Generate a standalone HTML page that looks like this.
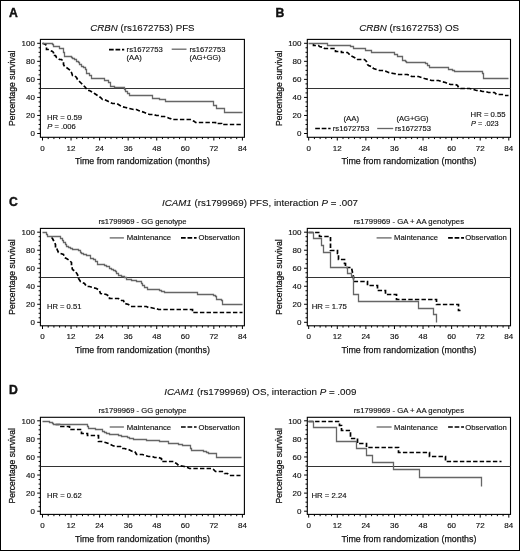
<!DOCTYPE html><html><head><meta charset="utf-8"><style>html,body{margin:0;padding:0;background:#fff;} .t{stroke:#111;stroke-width:0.15px;} .u{stroke:#111;stroke-width:0.12px;} .v{stroke:#111;stroke-width:0.25px;}svg{display:block;will-change:transform;filter:blur(0.3px);}</style></head><body>
<svg width="520" height="551" viewBox="0 0 520 551" font-family='"Liberation Sans", sans-serif' fill="#111">
<rect x="0" y="0" width="520" height="551" fill="#fff"/>
<rect x="0.5" y="0.5" width="519" height="550" fill="none" stroke="#000" stroke-width="1"/>
<rect x="40.4" y="39.4" width="204.00" height="97.90" fill="none" stroke="#000" stroke-width="1.1"/>
<line x1="40.4" y1="88.50" x2="244.4" y2="88.50" stroke="#333" stroke-width="1.15"/>
<path d="M37.20 133.50H40.4 M38.60 128.99H40.4 M38.60 124.48H40.4 M38.60 119.97H40.4 M37.20 115.46H40.4 M38.60 110.95H40.4 M38.60 106.44H40.4 M38.60 101.93H40.4 M37.20 97.42H40.4 M38.60 92.91H40.4 M38.60 88.40H40.4 M38.60 83.89H40.4 M37.20 79.38H40.4 M38.60 74.87H40.4 M38.60 70.36H40.4 M38.60 65.85H40.4 M37.20 61.34H40.4 M38.60 56.83H40.4 M38.60 52.32H40.4 M38.60 47.81H40.4 M37.20 43.30H40.4 M42.50 137.3V140.50 M48.21 137.3V139.10 M53.92 137.3V139.10 M59.63 137.3V139.10 M65.35 137.3V139.10 M71.06 137.3V140.50 M76.77 137.3V139.10 M82.48 137.3V139.10 M88.19 137.3V139.10 M93.90 137.3V139.10 M99.61 137.3V140.50 M105.33 137.3V139.10 M111.04 137.3V139.10 M116.75 137.3V139.10 M122.46 137.3V139.10 M128.17 137.3V140.50 M133.88 137.3V139.10 M139.59 137.3V139.10 M145.31 137.3V139.10 M151.02 137.3V139.10 M156.73 137.3V140.50 M162.44 137.3V139.10 M168.15 137.3V139.10 M173.86 137.3V139.10 M179.57 137.3V139.10 M185.29 137.3V140.50 M191.00 137.3V139.10 M196.71 137.3V139.10 M202.42 137.3V139.10 M208.13 137.3V139.10 M213.84 137.3V140.50 M219.55 137.3V139.10 M225.27 137.3V139.10 M230.98 137.3V139.10 M236.69 137.3V139.10 M242.40 137.3V140.50" stroke="#000" stroke-width="1" fill="none"/>
<text x="34.9" y="136.40" font-size="8.0" class="t" text-anchor="end">0</text>
<text x="34.9" y="118.36" font-size="8.0" class="t" text-anchor="end">20</text>
<text x="34.9" y="100.32" font-size="8.0" class="t" text-anchor="end">40</text>
<text x="34.9" y="82.28" font-size="8.0" class="t" text-anchor="end">60</text>
<text x="34.9" y="64.24" font-size="8.0" class="t" text-anchor="end">80</text>
<text x="34.9" y="46.20" font-size="8.0" class="t" text-anchor="end">100</text>
<text x="42.50" y="150.70" font-size="8.0" class="t" text-anchor="middle">0</text>
<text x="71.06" y="150.70" font-size="8.0" class="t" text-anchor="middle">12</text>
<text x="99.61" y="150.70" font-size="8.0" class="t" text-anchor="middle">24</text>
<text x="128.17" y="150.70" font-size="8.0" class="t" text-anchor="middle">36</text>
<text x="156.73" y="150.70" font-size="8.0" class="t" text-anchor="middle">48</text>
<text x="185.29" y="150.70" font-size="8.0" class="t" text-anchor="middle">60</text>
<text x="213.84" y="150.70" font-size="8.0" class="t" text-anchor="middle">72</text>
<text x="242.40" y="150.70" font-size="8.0" class="t" text-anchor="middle">84</text>
<text x="142.40" y="163.80" font-size="9.8" class="v" text-anchor="middle" textLength="135" lengthAdjust="spacingAndGlyphs">Time from randomization (months)</text>
<text class="v" transform="translate(14.80,88.35) rotate(-90)" font-size="9.8" text-anchor="middle" textLength="75.5" lengthAdjust="spacingAndGlyphs">Percentage survival</text>
<rect x="40.4" y="228.4" width="204.00" height="97.40" fill="none" stroke="#000" stroke-width="1.1"/>
<line x1="40.4" y1="277.50" x2="244.4" y2="277.50" stroke="#333" stroke-width="1.15"/>
<path d="M37.20 322.30H40.4 M38.60 317.80H40.4 M38.60 313.29H40.4 M38.60 308.79H40.4 M37.20 304.28H40.4 M38.60 299.77H40.4 M38.60 295.27H40.4 M38.60 290.76H40.4 M37.20 286.26H40.4 M38.60 281.75H40.4 M38.60 277.25H40.4 M38.60 272.75H40.4 M37.20 268.24H40.4 M38.60 263.74H40.4 M38.60 259.23H40.4 M38.60 254.72H40.4 M37.20 250.22H40.4 M38.60 245.71H40.4 M38.60 241.21H40.4 M38.60 236.70H40.4 M37.20 232.20H40.4 M42.50 325.8V329.00 M48.21 325.8V327.60 M53.92 325.8V327.60 M59.63 325.8V327.60 M65.35 325.8V327.60 M71.06 325.8V329.00 M76.77 325.8V327.60 M82.48 325.8V327.60 M88.19 325.8V327.60 M93.90 325.8V327.60 M99.61 325.8V329.00 M105.33 325.8V327.60 M111.04 325.8V327.60 M116.75 325.8V327.60 M122.46 325.8V327.60 M128.17 325.8V329.00 M133.88 325.8V327.60 M139.59 325.8V327.60 M145.31 325.8V327.60 M151.02 325.8V327.60 M156.73 325.8V329.00 M162.44 325.8V327.60 M168.15 325.8V327.60 M173.86 325.8V327.60 M179.57 325.8V327.60 M185.29 325.8V329.00 M191.00 325.8V327.60 M196.71 325.8V327.60 M202.42 325.8V327.60 M208.13 325.8V327.60 M213.84 325.8V329.00 M219.55 325.8V327.60 M225.27 325.8V327.60 M230.98 325.8V327.60 M236.69 325.8V327.60 M242.40 325.8V329.00" stroke="#000" stroke-width="1" fill="none"/>
<text x="34.9" y="325.20" font-size="8.0" class="t" text-anchor="end">0</text>
<text x="34.9" y="307.18" font-size="8.0" class="t" text-anchor="end">20</text>
<text x="34.9" y="289.16" font-size="8.0" class="t" text-anchor="end">40</text>
<text x="34.9" y="271.14" font-size="8.0" class="t" text-anchor="end">60</text>
<text x="34.9" y="253.12" font-size="8.0" class="t" text-anchor="end">80</text>
<text x="34.9" y="235.10" font-size="8.0" class="t" text-anchor="end">100</text>
<text x="42.50" y="339.20" font-size="8.0" class="t" text-anchor="middle">0</text>
<text x="71.06" y="339.20" font-size="8.0" class="t" text-anchor="middle">12</text>
<text x="99.61" y="339.20" font-size="8.0" class="t" text-anchor="middle">24</text>
<text x="128.17" y="339.20" font-size="8.0" class="t" text-anchor="middle">36</text>
<text x="156.73" y="339.20" font-size="8.0" class="t" text-anchor="middle">48</text>
<text x="185.29" y="339.20" font-size="8.0" class="t" text-anchor="middle">60</text>
<text x="213.84" y="339.20" font-size="8.0" class="t" text-anchor="middle">72</text>
<text x="242.40" y="339.20" font-size="8.0" class="t" text-anchor="middle">84</text>
<text x="142.40" y="352.60" font-size="9.8" class="v" text-anchor="middle" textLength="135" lengthAdjust="spacingAndGlyphs">Time from randomization (months)</text>
<text class="v" transform="translate(14.80,277.10) rotate(-90)" font-size="9.8" text-anchor="middle" textLength="75.5" lengthAdjust="spacingAndGlyphs">Percentage survival</text>
<rect x="40.4" y="417.3" width="204.00" height="97.10" fill="none" stroke="#000" stroke-width="1.1"/>
<line x1="40.4" y1="466.50" x2="244.4" y2="466.50" stroke="#333" stroke-width="1.15"/>
<path d="M37.20 511.20H40.4 M38.60 506.68H40.4 M38.60 502.16H40.4 M38.60 497.64H40.4 M37.20 493.12H40.4 M38.60 488.60H40.4 M38.60 484.08H40.4 M38.60 479.56H40.4 M37.20 475.04H40.4 M38.60 470.52H40.4 M38.60 466.00H40.4 M38.60 461.48H40.4 M37.20 456.96H40.4 M38.60 452.44H40.4 M38.60 447.92H40.4 M38.60 443.40H40.4 M37.20 438.88H40.4 M38.60 434.36H40.4 M38.60 429.84H40.4 M38.60 425.32H40.4 M37.20 420.80H40.4 M42.50 514.4V517.60 M48.21 514.4V516.20 M53.92 514.4V516.20 M59.63 514.4V516.20 M65.35 514.4V516.20 M71.06 514.4V517.60 M76.77 514.4V516.20 M82.48 514.4V516.20 M88.19 514.4V516.20 M93.90 514.4V516.20 M99.61 514.4V517.60 M105.33 514.4V516.20 M111.04 514.4V516.20 M116.75 514.4V516.20 M122.46 514.4V516.20 M128.17 514.4V517.60 M133.88 514.4V516.20 M139.59 514.4V516.20 M145.31 514.4V516.20 M151.02 514.4V516.20 M156.73 514.4V517.60 M162.44 514.4V516.20 M168.15 514.4V516.20 M173.86 514.4V516.20 M179.57 514.4V516.20 M185.29 514.4V517.60 M191.00 514.4V516.20 M196.71 514.4V516.20 M202.42 514.4V516.20 M208.13 514.4V516.20 M213.84 514.4V517.60 M219.55 514.4V516.20 M225.27 514.4V516.20 M230.98 514.4V516.20 M236.69 514.4V516.20 M242.40 514.4V517.60" stroke="#000" stroke-width="1" fill="none"/>
<text x="34.9" y="514.10" font-size="8.0" class="t" text-anchor="end">0</text>
<text x="34.9" y="496.02" font-size="8.0" class="t" text-anchor="end">20</text>
<text x="34.9" y="477.94" font-size="8.0" class="t" text-anchor="end">40</text>
<text x="34.9" y="459.86" font-size="8.0" class="t" text-anchor="end">60</text>
<text x="34.9" y="441.78" font-size="8.0" class="t" text-anchor="end">80</text>
<text x="34.9" y="423.70" font-size="8.0" class="t" text-anchor="end">100</text>
<text x="42.50" y="527.80" font-size="8.0" class="t" text-anchor="middle">0</text>
<text x="71.06" y="527.80" font-size="8.0" class="t" text-anchor="middle">12</text>
<text x="99.61" y="527.80" font-size="8.0" class="t" text-anchor="middle">24</text>
<text x="128.17" y="527.80" font-size="8.0" class="t" text-anchor="middle">36</text>
<text x="156.73" y="527.80" font-size="8.0" class="t" text-anchor="middle">48</text>
<text x="185.29" y="527.80" font-size="8.0" class="t" text-anchor="middle">60</text>
<text x="213.84" y="527.80" font-size="8.0" class="t" text-anchor="middle">72</text>
<text x="242.40" y="527.80" font-size="8.0" class="t" text-anchor="middle">84</text>
<text x="142.40" y="541.50" font-size="9.8" class="v" text-anchor="middle" textLength="135" lengthAdjust="spacingAndGlyphs">Time from randomization (months)</text>
<text class="v" transform="translate(14.80,465.85) rotate(-90)" font-size="9.8" text-anchor="middle" textLength="75.5" lengthAdjust="spacingAndGlyphs">Percentage survival</text>
<rect x="307.3" y="39.4" width="203.20" height="97.90" fill="none" stroke="#000" stroke-width="1.1"/>
<line x1="307.3" y1="88.50" x2="510.5" y2="88.50" stroke="#333" stroke-width="1.15"/>
<path d="M304.10 133.50H307.3 M305.50 128.99H307.3 M305.50 124.48H307.3 M305.50 119.97H307.3 M304.10 115.46H307.3 M305.50 110.95H307.3 M305.50 106.44H307.3 M305.50 101.93H307.3 M304.10 97.42H307.3 M305.50 92.91H307.3 M305.50 88.40H307.3 M305.50 83.89H307.3 M304.10 79.38H307.3 M305.50 74.87H307.3 M305.50 70.36H307.3 M305.50 65.85H307.3 M304.10 61.34H307.3 M305.50 56.83H307.3 M305.50 52.32H307.3 M305.50 47.81H307.3 M304.10 43.30H307.3 M308.70 137.3V140.50 M314.42 137.3V139.10 M320.13 137.3V139.10 M325.85 137.3V139.10 M331.57 137.3V139.10 M337.29 137.3V140.50 M343.00 137.3V139.10 M348.72 137.3V139.10 M354.44 137.3V139.10 M360.15 137.3V139.10 M365.87 137.3V140.50 M371.59 137.3V139.10 M377.31 137.3V139.10 M383.02 137.3V139.10 M388.74 137.3V139.10 M394.46 137.3V140.50 M400.17 137.3V139.10 M405.89 137.3V139.10 M411.61 137.3V139.10 M417.33 137.3V139.10 M423.04 137.3V140.50 M428.76 137.3V139.10 M434.48 137.3V139.10 M440.19 137.3V139.10 M445.91 137.3V139.10 M451.63 137.3V140.50 M457.35 137.3V139.10 M463.06 137.3V139.10 M468.78 137.3V139.10 M474.50 137.3V139.10 M480.21 137.3V140.50 M485.93 137.3V139.10 M491.65 137.3V139.10 M497.37 137.3V139.10 M503.08 137.3V139.10 M508.80 137.3V140.50" stroke="#000" stroke-width="1" fill="none"/>
<text x="301.5" y="136.40" font-size="8.0" class="t" text-anchor="end">0</text>
<text x="301.5" y="118.36" font-size="8.0" class="t" text-anchor="end">20</text>
<text x="301.5" y="100.32" font-size="8.0" class="t" text-anchor="end">40</text>
<text x="301.5" y="82.28" font-size="8.0" class="t" text-anchor="end">60</text>
<text x="301.5" y="64.24" font-size="8.0" class="t" text-anchor="end">80</text>
<text x="301.5" y="46.20" font-size="8.0" class="t" text-anchor="end">100</text>
<text x="308.70" y="150.70" font-size="8.0" class="t" text-anchor="middle">0</text>
<text x="337.29" y="150.70" font-size="8.0" class="t" text-anchor="middle">12</text>
<text x="365.87" y="150.70" font-size="8.0" class="t" text-anchor="middle">24</text>
<text x="394.46" y="150.70" font-size="8.0" class="t" text-anchor="middle">36</text>
<text x="423.04" y="150.70" font-size="8.0" class="t" text-anchor="middle">48</text>
<text x="451.63" y="150.70" font-size="8.0" class="t" text-anchor="middle">60</text>
<text x="480.21" y="150.70" font-size="8.0" class="t" text-anchor="middle">72</text>
<text x="508.80" y="150.70" font-size="8.0" class="t" text-anchor="middle">84</text>
<text x="408.90" y="163.80" font-size="9.8" class="v" text-anchor="middle" textLength="135" lengthAdjust="spacingAndGlyphs">Time from randomization (months)</text>
<text class="v" transform="translate(281.70,88.35) rotate(-90)" font-size="9.8" text-anchor="middle" textLength="75.5" lengthAdjust="spacingAndGlyphs">Percentage survival</text>
<rect x="307.3" y="228.4" width="203.20" height="97.40" fill="none" stroke="#000" stroke-width="1.1"/>
<line x1="307.3" y1="277.50" x2="510.5" y2="277.50" stroke="#333" stroke-width="1.15"/>
<path d="M304.10 322.30H307.3 M305.50 317.80H307.3 M305.50 313.29H307.3 M305.50 308.79H307.3 M304.10 304.28H307.3 M305.50 299.77H307.3 M305.50 295.27H307.3 M305.50 290.76H307.3 M304.10 286.26H307.3 M305.50 281.75H307.3 M305.50 277.25H307.3 M305.50 272.75H307.3 M304.10 268.24H307.3 M305.50 263.74H307.3 M305.50 259.23H307.3 M305.50 254.72H307.3 M304.10 250.22H307.3 M305.50 245.71H307.3 M305.50 241.21H307.3 M305.50 236.70H307.3 M304.10 232.20H307.3 M308.70 325.8V329.00 M314.42 325.8V327.60 M320.13 325.8V327.60 M325.85 325.8V327.60 M331.57 325.8V327.60 M337.29 325.8V329.00 M343.00 325.8V327.60 M348.72 325.8V327.60 M354.44 325.8V327.60 M360.15 325.8V327.60 M365.87 325.8V329.00 M371.59 325.8V327.60 M377.31 325.8V327.60 M383.02 325.8V327.60 M388.74 325.8V327.60 M394.46 325.8V329.00 M400.17 325.8V327.60 M405.89 325.8V327.60 M411.61 325.8V327.60 M417.33 325.8V327.60 M423.04 325.8V329.00 M428.76 325.8V327.60 M434.48 325.8V327.60 M440.19 325.8V327.60 M445.91 325.8V327.60 M451.63 325.8V329.00 M457.35 325.8V327.60 M463.06 325.8V327.60 M468.78 325.8V327.60 M474.50 325.8V327.60 M480.21 325.8V329.00 M485.93 325.8V327.60 M491.65 325.8V327.60 M497.37 325.8V327.60 M503.08 325.8V327.60 M508.80 325.8V329.00" stroke="#000" stroke-width="1" fill="none"/>
<text x="301.5" y="325.20" font-size="8.0" class="t" text-anchor="end">0</text>
<text x="301.5" y="307.18" font-size="8.0" class="t" text-anchor="end">20</text>
<text x="301.5" y="289.16" font-size="8.0" class="t" text-anchor="end">40</text>
<text x="301.5" y="271.14" font-size="8.0" class="t" text-anchor="end">60</text>
<text x="301.5" y="253.12" font-size="8.0" class="t" text-anchor="end">80</text>
<text x="301.5" y="235.10" font-size="8.0" class="t" text-anchor="end">100</text>
<text x="308.70" y="339.20" font-size="8.0" class="t" text-anchor="middle">0</text>
<text x="337.29" y="339.20" font-size="8.0" class="t" text-anchor="middle">12</text>
<text x="365.87" y="339.20" font-size="8.0" class="t" text-anchor="middle">24</text>
<text x="394.46" y="339.20" font-size="8.0" class="t" text-anchor="middle">36</text>
<text x="423.04" y="339.20" font-size="8.0" class="t" text-anchor="middle">48</text>
<text x="451.63" y="339.20" font-size="8.0" class="t" text-anchor="middle">60</text>
<text x="480.21" y="339.20" font-size="8.0" class="t" text-anchor="middle">72</text>
<text x="508.80" y="339.20" font-size="8.0" class="t" text-anchor="middle">84</text>
<text x="408.90" y="352.60" font-size="9.8" class="v" text-anchor="middle" textLength="135" lengthAdjust="spacingAndGlyphs">Time from randomization (months)</text>
<text class="v" transform="translate(281.70,277.10) rotate(-90)" font-size="9.8" text-anchor="middle" textLength="75.5" lengthAdjust="spacingAndGlyphs">Percentage survival</text>
<rect x="307.3" y="417.3" width="203.20" height="97.10" fill="none" stroke="#000" stroke-width="1.1"/>
<line x1="307.3" y1="466.50" x2="510.5" y2="466.50" stroke="#333" stroke-width="1.15"/>
<path d="M304.10 511.20H307.3 M305.50 506.68H307.3 M305.50 502.16H307.3 M305.50 497.64H307.3 M304.10 493.12H307.3 M305.50 488.60H307.3 M305.50 484.08H307.3 M305.50 479.56H307.3 M304.10 475.04H307.3 M305.50 470.52H307.3 M305.50 466.00H307.3 M305.50 461.48H307.3 M304.10 456.96H307.3 M305.50 452.44H307.3 M305.50 447.92H307.3 M305.50 443.40H307.3 M304.10 438.88H307.3 M305.50 434.36H307.3 M305.50 429.84H307.3 M305.50 425.32H307.3 M304.10 420.80H307.3 M308.70 514.4V517.60 M314.42 514.4V516.20 M320.13 514.4V516.20 M325.85 514.4V516.20 M331.57 514.4V516.20 M337.29 514.4V517.60 M343.00 514.4V516.20 M348.72 514.4V516.20 M354.44 514.4V516.20 M360.15 514.4V516.20 M365.87 514.4V517.60 M371.59 514.4V516.20 M377.31 514.4V516.20 M383.02 514.4V516.20 M388.74 514.4V516.20 M394.46 514.4V517.60 M400.17 514.4V516.20 M405.89 514.4V516.20 M411.61 514.4V516.20 M417.33 514.4V516.20 M423.04 514.4V517.60 M428.76 514.4V516.20 M434.48 514.4V516.20 M440.19 514.4V516.20 M445.91 514.4V516.20 M451.63 514.4V517.60 M457.35 514.4V516.20 M463.06 514.4V516.20 M468.78 514.4V516.20 M474.50 514.4V516.20 M480.21 514.4V517.60 M485.93 514.4V516.20 M491.65 514.4V516.20 M497.37 514.4V516.20 M503.08 514.4V516.20 M508.80 514.4V517.60" stroke="#000" stroke-width="1" fill="none"/>
<text x="301.5" y="514.10" font-size="8.0" class="t" text-anchor="end">0</text>
<text x="301.5" y="496.02" font-size="8.0" class="t" text-anchor="end">20</text>
<text x="301.5" y="477.94" font-size="8.0" class="t" text-anchor="end">40</text>
<text x="301.5" y="459.86" font-size="8.0" class="t" text-anchor="end">60</text>
<text x="301.5" y="441.78" font-size="8.0" class="t" text-anchor="end">80</text>
<text x="301.5" y="423.70" font-size="8.0" class="t" text-anchor="end">100</text>
<text x="308.70" y="527.80" font-size="8.0" class="t" text-anchor="middle">0</text>
<text x="337.29" y="527.80" font-size="8.0" class="t" text-anchor="middle">12</text>
<text x="365.87" y="527.80" font-size="8.0" class="t" text-anchor="middle">24</text>
<text x="394.46" y="527.80" font-size="8.0" class="t" text-anchor="middle">36</text>
<text x="423.04" y="527.80" font-size="8.0" class="t" text-anchor="middle">48</text>
<text x="451.63" y="527.80" font-size="8.0" class="t" text-anchor="middle">60</text>
<text x="480.21" y="527.80" font-size="8.0" class="t" text-anchor="middle">72</text>
<text x="508.80" y="527.80" font-size="8.0" class="t" text-anchor="middle">84</text>
<text x="408.90" y="541.50" font-size="9.8" class="v" text-anchor="middle" textLength="135" lengthAdjust="spacingAndGlyphs">Time from randomization (months)</text>
<text class="v" transform="translate(281.70,465.85) rotate(-90)" font-size="9.8" text-anchor="middle" textLength="75.5" lengthAdjust="spacingAndGlyphs">Percentage survival</text>
<text x="9.1" y="16.8" font-size="12.2" font-weight="bold" stroke="#111" stroke-width="0.4">A</text>
<text x="275.6" y="16.6" font-size="12.2" font-weight="bold" stroke="#111" stroke-width="0.4">B</text>
<text x="9.1" y="205.6" font-size="12.2" font-weight="bold" stroke="#111" stroke-width="0.4">C</text>
<text x="9.1" y="393.9" font-size="12.2" font-weight="bold" stroke="#111" stroke-width="0.4">D</text>
<text class="u" x="90.3" y="31.0" font-size="9.8" textLength="104.3" lengthAdjust="spacingAndGlyphs"><tspan font-style="italic">CRBN</tspan> (rs1672753) PFS</text>
<text class="u" x="359.2" y="31.0" font-size="9.8" textLength="99.8" lengthAdjust="spacingAndGlyphs"><tspan font-style="italic">CRBN</tspan> (rs1672753) OS</text>
<text class="u" x="162.0" y="205.8" font-size="9.8" textLength="196.0" lengthAdjust="spacingAndGlyphs"><tspan font-style="italic">ICAM1</tspan> (rs1799969) PFS, interaction <tspan font-style="italic">P</tspan> = .007</text>
<text class="u" x="164.3" y="394.5" font-size="9.8" textLength="192.1" lengthAdjust="spacingAndGlyphs"><tspan font-style="italic">ICAM1</tspan> (rs1799969) OS, interaction <tspan font-style="italic">P</tspan> = .009</text>
<text x="98.4" y="223.5" font-size="7.8" class="t" textLength="88.2" lengthAdjust="spacingAndGlyphs">rs1799969 - GG genotype</text>
<text x="353.8" y="223.5" font-size="7.8" class="t" textLength="110.2" lengthAdjust="spacingAndGlyphs">rs1799969 - GA + AA genotypes</text>
<text x="98.4" y="412.5" font-size="7.8" class="t" textLength="88.2" lengthAdjust="spacingAndGlyphs">rs1799969 - GG genotype</text>
<text x="353.8" y="412.5" font-size="7.8" class="t" textLength="110.2" lengthAdjust="spacingAndGlyphs">rs1799969 - GA + AA genotypes</text>
<path d="M109 49.6H124.2" stroke="#000" stroke-width="1.6" stroke-dasharray="4.7 1.8"/>
<text x="126.6" y="52.2" font-size="7.8" class="t" textLength="36.3" lengthAdjust="spacingAndGlyphs">rs1672753</text>
<text x="126.6" y="59.9" font-size="7.8" class="t" textLength="15.2" lengthAdjust="spacingAndGlyphs">(AA)</text>
<path d="M171.7 49.2H186.5" stroke="#666" stroke-width="1.3"/>
<text x="189.4" y="52.2" font-size="7.8" class="t" textLength="36.0" lengthAdjust="spacingAndGlyphs">rs1672753</text>
<text x="189.5" y="59.9" font-size="7.8" class="t" textLength="31.2" lengthAdjust="spacingAndGlyphs">(AG+GG)</text>
<text x="47.0" y="119.9" font-size="7.8" class="t" textLength="35.0" lengthAdjust="spacingAndGlyphs">HR = 0.59</text>
<text x="47.2" y="128.8" font-size="7.8" class="t" textLength="28.6" lengthAdjust="spacingAndGlyphs"><tspan font-style="italic">P</tspan> = .006</text>
<text x="343.4" y="121.4" font-size="7.8" class="t" textLength="15.6" lengthAdjust="spacingAndGlyphs">(AA)</text>
<path d="M315.2 128.5H330.6" stroke="#000" stroke-width="1.6" stroke-dasharray="4.7 1.8"/>
<text x="332.8" y="130.7" font-size="7.8" class="t" textLength="36.4" lengthAdjust="spacingAndGlyphs">rs1672753</text>
<text x="396.5" y="121.4" font-size="7.8" class="t" textLength="32.1" lengthAdjust="spacingAndGlyphs">(AG+GG)</text>
<path d="M377.2 128.5H393.2" stroke="#666" stroke-width="1.3"/>
<text x="395.1" y="130.7" font-size="7.8" class="t" textLength="35.9" lengthAdjust="spacingAndGlyphs">rs1672753</text>
<text x="470.6" y="117.0" font-size="7.8" class="t" textLength="35.0" lengthAdjust="spacingAndGlyphs">HR = 0.55</text>
<text x="471.1" y="126.0" font-size="7.8" class="t" textLength="27.6" lengthAdjust="spacingAndGlyphs"><tspan font-style="italic">P</tspan> = .023</text>
<path d="M109.7 237.9H123.9" stroke="#666" stroke-width="1.3"/>
<text x="126.7" y="240.4" font-size="7.8" class="t" textLength="44.5" lengthAdjust="spacingAndGlyphs">Maintenance</text>
<path d="M181.0 237.9H196.6" stroke="#000" stroke-width="1.6" stroke-dasharray="4.7 1.8"/>
<text x="198.5" y="240.4" font-size="7.8" class="t" textLength="41.4" lengthAdjust="spacingAndGlyphs">Observation</text>
<path d="M376.6 237.9H391.6" stroke="#666" stroke-width="1.3"/>
<text x="394.1" y="240.4" font-size="7.8" class="t" textLength="43.9" lengthAdjust="spacingAndGlyphs">Maintenance</text>
<path d="M448.1 237.9H464.0" stroke="#000" stroke-width="1.6" stroke-dasharray="4.7 1.8"/>
<text x="465.2" y="240.4" font-size="7.8" class="t" textLength="41.6" lengthAdjust="spacingAndGlyphs">Observation</text>
<path d="M109.7 427.0H123.9" stroke="#666" stroke-width="1.3"/>
<text x="126.7" y="429.5" font-size="7.8" class="t" textLength="44.5" lengthAdjust="spacingAndGlyphs">Maintenance</text>
<path d="M181.0 427.0H196.6" stroke="#000" stroke-width="1.6" stroke-dasharray="4.7 1.8"/>
<text x="198.5" y="429.5" font-size="7.8" class="t" textLength="41.4" lengthAdjust="spacingAndGlyphs">Observation</text>
<path d="M376.6 427.0H391.6" stroke="#666" stroke-width="1.3"/>
<text x="394.1" y="429.5" font-size="7.8" class="t" textLength="43.9" lengthAdjust="spacingAndGlyphs">Maintenance</text>
<path d="M448.1 427.0H464.0" stroke="#000" stroke-width="1.6" stroke-dasharray="4.7 1.8"/>
<text x="465.2" y="429.5" font-size="7.8" class="t" textLength="41.6" lengthAdjust="spacingAndGlyphs">Observation</text>
<text x="47.0" y="308.7" font-size="7.8" class="t" textLength="34.4" lengthAdjust="spacingAndGlyphs">HR = 0.51</text>
<text x="311.7" y="308.7" font-size="7.8" class="t" textLength="35.2" lengthAdjust="spacingAndGlyphs">HR = 1.75</text>
<text x="47.1" y="497.6" font-size="7.8" class="t" textLength="34.6" lengthAdjust="spacingAndGlyphs">HR = 0.62</text>
<text x="311.5" y="497.8" font-size="7.8" class="t" textLength="35.0" lengthAdjust="spacingAndGlyphs">HR = 2.24</text>
<path d="M42.5 43.5L43.5 43.5L45.5 44.5L46.5 45.5V49.5L48.5 49.5L52.5 51.5L53.5 52.5V55.5L55.5 55.5L56.5 57.5L59.5 59.5L61.5 59.5L63.5 61.5V64.5L64.5 66.5L66.5 67.5L70.5 70.5L71.5 72.5L72.5 75.5L74.5 75.5L76.5 77.5L77.5 79.5L80.5 82.5L81.5 83.5L83.5 85.5L85.5 87.5L87.5 90.5L89.5 90.5L94.5 93.5L97.5 95.5L100.5 97.5L102.5 99.5L104.5 99.5L106.5 100.5L108.5 101.5L110.5 102.5L112.5 103.5L116.5 103.5L118.5 104.5L121.5 106.5L125.5 107.5L129.5 108.5L133.5 109.5L136.5 109.5L138.5 110.5L141.5 111.5L144.5 112.5L146.5 113.5L149.5 114.5L153.5 114.5L156.5 115.5L158.5 115.5L161.5 116.5L164.5 116.5L167.5 117.5L169.5 118.5L170.5 118.5L171.5 119.5H190.5L192.5 120.5L194.5 121.5L195.5 122.5H215.5V123.5H221.5V124.5H242.5" fill="none" stroke="#000" stroke-width="1.7" stroke-dasharray="4.4 2.2"/>
<path d="M42.5 43.5H52.5V44.5H53.5V46.5H59.5V48.5H63.5V52.5H64.5V56.5H71.5V57.5H72.5V58.5H74.5V59.5H76.5V61.5H78.5V62.5H79.5V64.5H81.5V66.5H83.5V67.5H85.5V69.5H86.5V73.5H89.5V75.5H91.5V78.5H104.5V80.5H108.5V82.5H110.5V86.5H114.5V87.5H124.5V89.5H125.5V91.5H127.5V93.5H129.5V95.5H152.5V98.5H159.5V99.5H165.5V101.5H213.5V105.5H216.5V108.5H224.5V112.5H242.5" fill="none" stroke="#666" stroke-width="1.3"/>
<path d="M313.5 43.5V45.5H318.5L319.5 46.5L323.5 47.5L324.5 48.5H335.5V51.5H341.5V52.5H347.5L348.5 53.5L350.5 55.5L352.5 56.5L356.5 58.5L357.5 59.5H362.5L364.5 59.5L366.5 61.5L367.5 64.5L368.5 65.5L371.5 66.5L373.5 68.5L376.5 69.5L379.5 70.5L382.5 70.5L386.5 71.5L388.5 72.5L393.5 73.5L398.5 74.5L400.5 74.5H407.5L409.5 75.5L411.5 76.5L418.5 76.5L421.5 77.5L424.5 78.5L428.5 79.5L431.5 80.5L435.5 80.5L438.5 80.5L441.5 81.5L445.5 82.5L447.5 83.5L450.5 84.5L455.5 84.5L457.5 85.5L458.5 87.5L460.5 88.5L469.5 88.5L473.5 89.5L476.5 90.5L479.5 90.5L482.5 91.5L485.5 91.5L488.5 92.5L490.5 92.5H494.5L496.5 94.5L502.5 94.5L504.5 95.5H508.5" fill="none" stroke="#000" stroke-width="1.7" stroke-dasharray="4.4 2.2"/>
<path d="M308.5 43.5H327.5V45.5H350.5V46.5H353.5V48.5H365.5V50.5H371.5V52.5H394.5V54.5H397.5V56.5H402.5V60.5H405.5V61.5H406.5V62.5H425.5V63.5H427.5V65.5H429.5V67.5H448.5V69.5H452.5V70.5H454.5V71.5H482.5V73.5H483.5V78.5H508.5" fill="none" stroke="#666" stroke-width="1.3"/>
<path d="M51.5 237.5L52.5 238.5L53.5 240.5L54.5 242.5L55.5 244.5L55.5 247.5L56.5 247.5L57.5 250.5L58.5 252.5L60.5 253.5L63.5 254.5L64.5 257.5L66.5 258.5L69.5 260.5L71.5 262.5L71.5 265.5L72.5 269.5L75.5 271.5L77.5 274.5L78.5 278.5L80.5 281.5L84.5 283.5L86.5 286.5L89.5 286.5L92.5 287.5L96.5 288.5L99.5 290.5L100.5 293.5L106.5 294.5L109.5 296.5L109.5 298.5H118.5L121.5 300.5H123.5L124.5 303.5L128.5 304.5L130.5 306.5L131.5 306.5H146.5L148.5 307.5L150.5 307.5L154.5 308.5L156.5 308.5L158.5 309.5H192.5V312.5H242.5" fill="none" stroke="#000" stroke-width="1.7" stroke-dasharray="4.4 2.2"/>
<path d="M42.5 232.5H46.5V234.5H47.5V236.5H60.5V238.5H62.5V240.5H63.5V242.5H65.5V244.5H66.5V246.5H68.5V247.5H70.5V248.5H72.5V249.5H78.5V250.5H80.5V252.5H81.5V253.5H83.5V254.5H86.5V255.5H90.5V258.5H93.5V259.5H95.5V261.5H97.5V264.5H104.5V265.5H106.5V266.5H109.5V268.5H111.5V269.5H113.5V270.5H115.5V271.5H116.5V273.5H118.5V275.5H121.5V276.5H124.5V277.5H126.5V279.5H129.5V279.5H131.5V280.5H136.5V281.5H139.5V281.5H141.5V283.5H142.5V285.5H144.5V287.5H147.5V289.5H159.5V290.5H161.5V291.5H164.5V292.5H197.5V294.5H213.5V295.5H215.5V296.5H216.5V299.5H221.5V300.5H222.5V304.5H242.5" fill="none" stroke="#666" stroke-width="1.3"/>
<path d="M308.5 232.5H319.5V236.5H330.5V250.5H337.5V253.5H338.5V259.5H344.5V263.5H345.5V267.5H351.5L352.5 272.5L353.5 276.5L353.5 281.5H367.5V285.5H377.5V290.5H385.5V294.5H396.5V299.5H436.5V304.5H458.5V310.5H460.5" fill="none" stroke="#000" stroke-width="1.7" stroke-dasharray="4.4 2.2"/>
<path d="M308.5 232.5H313.5V238.5H321.5V245.5H323.5V252.5H330.5V267.5H347.5V273.5H351.5V276.5H353.5V294.5H358.5V301.5H418.5V308.5H433.5V314.5H436.5V322.5" fill="none" stroke="#666" stroke-width="1.3"/>
<path d="M55.5 424.5H59.5V426.5H69.5V429.5H81.5V433.5H87.5V435.5H98.5V441.5H101.5L105.5 442.5L108.5 443.5L112.5 445.5L115.5 446.5L116.5 446.5H120.5L121.5 448.5H124.5L127.5 449.5L128.5 449.5L130.5 450.5L132.5 451.5L134.5 451.5L135.5 452.5L136.5 454.5H142.5L145.5 455.5L148.5 456.5H152.5L154.5 457.5L158.5 457.5L161.5 458.5L161.5 461.5H173.5L174.5 462.5L176.5 463.5L178.5 465.5L184.5 466.5L187.5 467.5L189.5 468.5H211.5L213.5 469.5L215.5 471.5H223.5L224.5 473.5L227.5 473.5L229.5 475.5H240.5" fill="none" stroke="#000" stroke-width="1.7" stroke-dasharray="4.4 2.2"/>
<path d="M42.5 421.5H47.5V421.5H49.5V422.5H52.5V423.5H53.5V424.5H87.5V426.5H88.5V428.5H95.5V429.5H102.5V431.5H104.5V432.5H106.5V433.5H109.5V434.5H118.5V435.5H121.5V436.5H127.5V437.5H129.5V438.5H133.5V439.5H146.5V440.5H159.5V441.5H168.5V443.5H178.5V444.5H182.5V445.5H190.5V448.5H191.5V450.5H203.5V451.5H206.5V452.5H208.5V453.5H216.5V457.5H241.5" fill="none" stroke="#666" stroke-width="1.3"/>
<path d="M308.5 421.5H339.5V425.5H341.5V430.5H350.5V438.5H357.5V443.5H366.5V447.5H398.5V452.5H429.5V456.5H445.5V461.5H501.5" fill="none" stroke="#000" stroke-width="1.7" stroke-dasharray="4.4 2.2"/>
<path d="M308.5 421.5H313.5V427.5H336.5V441.5H356.5V448.5H366.5V455.5H372.5V462.5H393.5V469.5H419.5V477.5H481.5V486.5" fill="none" stroke="#666" stroke-width="1.3"/>
</svg></body></html>
